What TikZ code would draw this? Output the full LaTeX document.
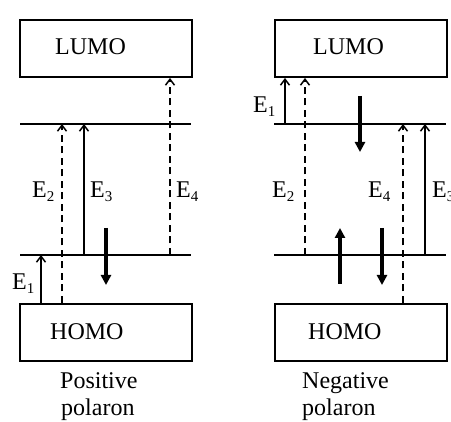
\documentclass[tikz,border=0pt]{standalone}
\usepackage{fontspec}
\setmainfont{Liberation Serif}
\usetikzlibrary{arrows.meta}
\newcommand{\Elab}[1]{E\raisebox{-4pt}{\fontsize{15}{15}\selectfont #1}}
\begin{document}
\begin{tikzpicture}[x=1pt,y=-1pt,
  box/.style={draw, line width=2pt, minimum width=172pt, minimum height=57pt, inner sep=0pt, anchor=north west},
  lvl/.style={line width=2pt},
  txt/.style={font=\fontsize{24}{27}\selectfont, anchor=base west, inner sep=0pt},
  tr/.style={line width=1.5pt, -{Straight Barb[length=6pt,width=9pt]}},
  dtr/.style={tr, dash pattern=on 7pt off 4.5pt},
  spin/.style={line width=3.3pt, -{Triangle[length=10pt,width=10pt]}}
]
\useasboundingbox (0,0) rectangle (451,422);
% ---------- left panel ----------
\node[box] (llumo) at (19,19) {};
\node[box] (lhomo) at (19,303) {};
\node[txt] (tllumo) at (55,55) {LUMO};
\node[txt] (tlhomo) at (50,340) {HOMO};
\coordinate (lupA) at (20,124); \coordinate (lupB) at (191,124);
\coordinate (llowA) at (20,255); \coordinate (llowB) at (191,255);
\draw[lvl] (lupA) -- (lupB);
\draw[lvl] (llowA) -- (llowB);
\draw[tr]  (41,0 |- lhomo.north) -- (41,0 |- llowA);
\draw[dtr] (62,0 |- lhomo.north) -- (62,0 |- lupA);
\draw[tr]  (84,0 |- llowA) -- (84,0 |- lupA);
\draw[dtr] (170,0 |- llowA) -- (170,0 |- llumo.south);
\coordinate (lsA) at (106,228); \coordinate (lsB) at (106,285);
\draw[spin] (lsA) -- (lsB);
\node[txt] (lE1) at (12,290) {\Elab{1}};
\node[txt] (lE2) at (32,198) {\Elab{2}};
\node[txt] (lE3) at (90,198) {\Elab{3}};
\node[txt] (lE4) at (176,198) {\Elab{4}};
\node[txt] (lcap1) at (60,389) {Positive};
\node[txt] (lcap2) at (61,416) {polaron};
% ---------- right panel ----------
\node[box] (rlumo) at (274,19) {};
\node[box] (rhomo) at (274,303) {};
\node[txt] (trlumo) at (313,55) {LUMO};
\node[txt] (trhomo) at (308,340) {HOMO};
\coordinate (rupA) at (274,124); \coordinate (rupB) at (446,124);
\coordinate (rlowA) at (274,255); \coordinate (rlowB) at (446,255);
\draw[lvl] (rupA) -- (rupB);
\draw[lvl] (rlowA) -- (rlowB);
\draw[tr]  (285,0 |- rupA) -- (285,0 |- rlumo.south);
\draw[dtr] (305,0 |- rlowA) -- (305,0 |- rlumo.south);
\draw[dtr] (403,0 |- rhomo.north) -- (403,0 |- rupA);
\draw[tr]  (425,0 |- rlowA) -- (425,0 |- rupA);
\coordinate (rs1A) at (360,96);  \coordinate (rs1B) at (360,152);
\coordinate (rs2A) at (340,284); \coordinate (rs2B) at (340,228);
\coordinate (rs3A) at (382,228); \coordinate (rs3B) at (382,285);
\draw[spin] (rs1A) -- (rs1B);
\draw[spin] (rs2A) -- (rs2B);
\draw[spin] (rs3A) -- (rs3B);
\node[txt] (rE1) at (253,113) {\Elab{1}};
\node[txt] (rE2) at (272,198) {\Elab{2}};
\node[txt] (rE4) at (368,198) {\Elab{4}};
\node[txt] (rE3) at (432,198) {\Elab{3}};
\node[txt] (rcap1) at (302,389) {Negative};
\node[txt] (rcap2) at (302,416) {polaron};
\end{tikzpicture}
\end{document}
